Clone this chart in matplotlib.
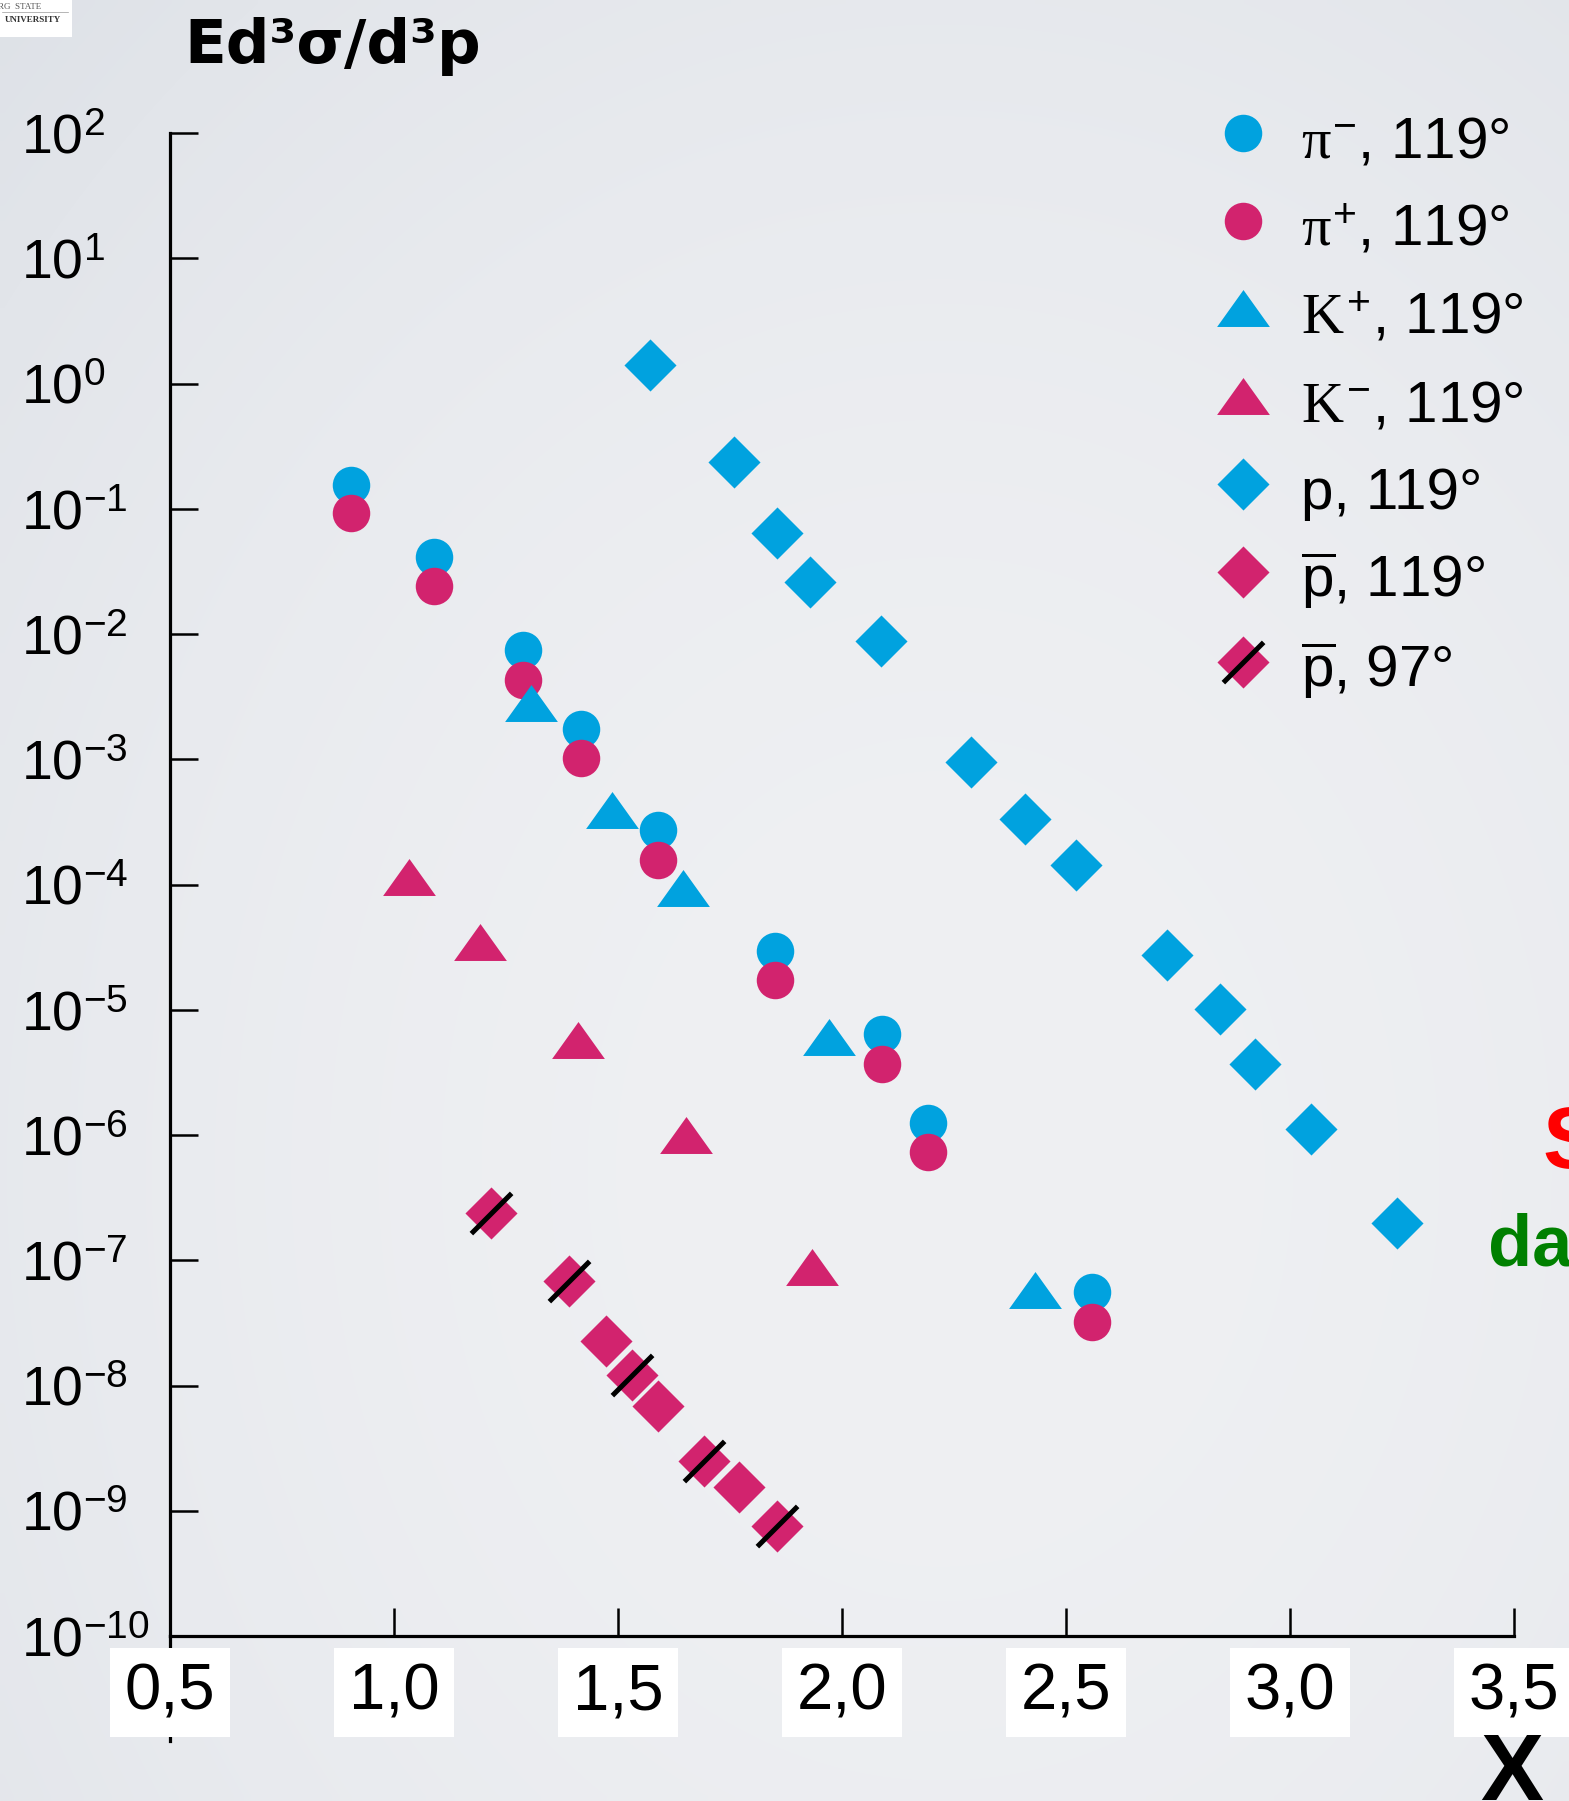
import numpy as np
import matplotlib
matplotlib.use("Agg")
import matplotlib.pyplot as plt
from matplotlib.lines import Line2D
from matplotlib.path import Path
from matplotlib.legend_handler import HandlerTuple
from matplotlib.patches import Rectangle

plt.rcParams['font.family'] = ['Liberation Sans', 'DejaVu Sans']
plt.rcParams['mathtext.fontset'] = 'custom'
plt.rcParams['mathtext.rm'] = 'Liberation Sans'
plt.rcParams['mathtext.sf'] = 'Liberation Sans'
plt.rcParams['mathtext.it'] = 'Liberation Serif'
plt.rcParams['mathtext.bf'] = 'Liberation Sans:bold'

# ---------------- data: invariant cross sections vs x ----------------
pim_x = [0.903, 1.090, 1.287, 1.418, 1.590, 1.851, 2.090, 2.192, 2.559]
pim_y = [1.56e-1, 4.12e-2, 7.44e-3, 1.73e-3, 2.70e-4, 2.94e-5, 6.41e-6, 1.24e-6, 5.53e-8]

pip_x = [0.903, 1.090, 1.287, 1.418, 1.590, 1.851, 2.090, 2.192, 2.559]
pip_y = [9.18e-2, 2.43e-2, 4.30e-3, 1.02e-3, 1.56e-4, 1.73e-5, 3.71e-6, 7.28e-7, 3.20e-8]

kp_x = [1.305, 1.487, 1.644, 1.972, 2.431]
kp_y = [2.82e-3, 3.95e-4, 9.38e-5, 6.03e-6, 5.77e-8]

km_x = [1.033, 1.192, 1.410, 1.651, 1.933]
km_y = [1.14e-4, 3.48e-5, 5.77e-6, 1.00e-6, 8.81e-8]

p_x = [1.572, 1.759, 1.856, 1.928, 2.087, 2.287, 2.408, 2.523, 2.726, 2.844, 2.921, 3.046, 3.238]
p_y = [1.40, 2.38e-1, 6.41e-2, 2.59e-2, 8.81e-3, 9.59e-4, 3.33e-4, 1.43e-4, 2.76e-5,
       1.02e-5, 3.71e-6, 1.11e-6, 1.97e-7]

pbar119_x = [1.474, 1.590, 1.769]
pbar119_y = [2.28e-8, 6.84e-9, 1.56e-9]

pbar97_x = [1.217, 1.390, 1.531, 1.692, 1.854]
pbar97_y = [2.38e-7, 6.84e-8, 1.21e-8, 2.48e-9, 7.60e-10]

series_labels = [r'$\pi^{-}$, 119°', r'$\pi^{+}$, 119°', r'$K^{+}$, 119°', r'$K^{-}$, 119°',
                 'p, 119°', r'$\overline{\mathrm{p}}$, 119°', r'$\overline{\mathrm{p}}$, 97°']

x_ticks = [0.5, 1.0, 1.5, 2.0, 2.5, 3.0, 3.5]
x_tick_labels = ['0,5', '1,0', '1,5', '2,0', '2,5', '3,0', '3,5']
y_exponents = [2, 1, 0, -1, -2, -3, -4, -5, -6, -7, -8, -9, -10]

# ---------------- styling ----------------
BLUE = '#00A2DF'
MAGENTA = '#D2236E'

W, H = 1569, 1801
fig = plt.figure(figsize=(W / 100, H / 100), dpi=100)

# soft slide-style background
bg = fig.add_axes([0, 0, 1, 1], zorder=-10)
gy, gx = np.mgrid[0:1:200j, 0:1:180j]
d2 = ((gx - 0.6) / 0.75) ** 2 + ((gy - 0.65) / 0.8) ** 2
center = np.array([239, 240, 243]) / 255.0
delta = np.array([13, 11, 9]) / 255.0
img = center[None, None, :] - d2[:, :, None] * delta[None, None, :]
bg.imshow(np.clip(img, 0, 1), aspect='auto', interpolation='bilinear', extent=[0, 1, 1, 0])
bg.set_xlim(0, 1)
bg.set_ylim(1, 0)
bg.axis('off')

def fx(px):
    return px / W

def fy(py):
    return 1 - py / H

ax = fig.add_axes([fx(170), fy(1636), (1514 - 170) / W, (1636 - 133) / H])
ax.set_facecolor('none')
ax.set_yscale('log')
ax.set_xlim(0.5, 3.5)
ax.set_ylim(1e-10, 1e2)

tri = Path([(0, 0.70), (-1, -0.70), (1, -0.70), (0, 0.70)], closed=True)
dia = Path([(0, 1), (1, 0), (0, -1), (-1, 0), (0, 1)], closed=True)
slash = Path([(-1, -1), (1, 1)], [Path.MOVETO, Path.LINETO])

mk = dict(linestyle='none', markeredgewidth=0)
h_pim, = ax.plot(pim_x, pim_y, marker='o', ms=27, color=BLUE, **mk)
h_pip, = ax.plot(pip_x, pip_y, marker='o', ms=27, color=MAGENTA, **mk)
h_kp, = ax.plot(kp_x, kp_y, marker=tri, ms=38, color=BLUE, **mk)
h_km, = ax.plot(km_x, km_y, marker=tri, ms=38, color=MAGENTA, **mk)
h_p, = ax.plot(p_x, p_y, marker=dia, ms=37.5, color=BLUE, **mk)
h_pb1, = ax.plot(pbar119_x, pbar119_y, marker=dia, ms=37.5, color=MAGENTA, **mk)
h_pb2, = ax.plot(pbar97_x, pbar97_y, marker=dia, ms=37.5, color=MAGENTA, **mk)
h_sl, = ax.plot(pbar97_x, pbar97_y, marker=slash, ms=29, linestyle='none',
                markerfacecolor='none', markeredgecolor='black', markeredgewidth=3.6, zorder=3)

# axes frame
for s in ['top', 'right']:
    ax.spines[s].set_visible(False)
for s in ['left', 'bottom']:
    ax.spines[s].set_linewidth(2.3)
ax.axvline(0.5, ymin=-0.07, ymax=0, color='black', lw=2.3, clip_on=False, zorder=0.5)

ax.set_xticks(x_ticks)
ax.set_xticklabels(x_tick_labels, fontsize=47,
                   bbox=dict(facecolor='white', edgecolor='none', boxstyle='square,pad=0.22'))
ax.set_yticks([10.0 ** e for e in y_exponents])
ax.set_yticklabels([r'$10^{%d}$' % e for e in y_exponents], fontsize=40)
ax.yaxis.set_minor_locator(matplotlib.ticker.NullLocator())
ax.tick_params(axis='both', direction='in', length=20, width=1.8, color='black')
ax.tick_params(axis='x', pad=19)
ax.tick_params(axis='y', pad=107)
for lab in ax.get_yticklabels():
    lab.set_horizontalalignment('left')

# legend
handles = [h_pim, h_pip, h_kp, h_km, h_p, h_pb1, (h_pb2, h_sl)]
leg = ax.legend(handles, series_labels, loc='upper left',
                bbox_to_anchor=(fx(1208), fy(108)), bbox_transform=fig.transFigure,
                frameon=False, fontsize=42, handlelength=1.2, handleheight=1.2,
                handletextpad=0.39, labelspacing=0.45, borderpad=0, borderaxespad=0,
                handler_map={tuple: HandlerTuple(ndivide=1, pad=0)})

# headings and side notes
fig.text(fx(184), fy(63), 'Ed³σ/d³p', family='DejaVu Sans', weight='bold', fontsize=44,
         ha='left', va='baseline')
fig.text(fx(1480), fy(1800), 'X', weight='bold', fontsize=68, ha='left', va='baseline')
fig.text(fx(1542), fy(1168), 'S', weight='bold', fontsize=63, color='#FF0000',
         ha='left', va='baseline')
fig.text(fx(1488), fy(1265), 'data', weight='bold', fontsize=52, color='#008000',
         ha='left', va='baseline')

# university badge
fig.patches.append(Rectangle((0, fy(37)), fx(72), 37 / H, transform=fig.transFigure,
                             facecolor='white', edgecolor='none', zorder=5))
fig.text(fx(-2), fy(9), 'RG  STATE', family='Liberation Serif', fontsize=6.5,
         color='#555555', ha='left', va='baseline', zorder=6)
fig.lines.append(Line2D([fx(2), fx(68)], [fy(12), fy(12)], transform=fig.transFigure,
                        color='#999999', lw=0.5, zorder=6))
fig.text(fx(5), fy(22), 'UNIVERSITY', family='Liberation Serif', fontsize=6.5,
         weight='bold', color='#333333', ha='left', va='baseline', zorder=6)

fig.savefig('out.png', dpi=100)
